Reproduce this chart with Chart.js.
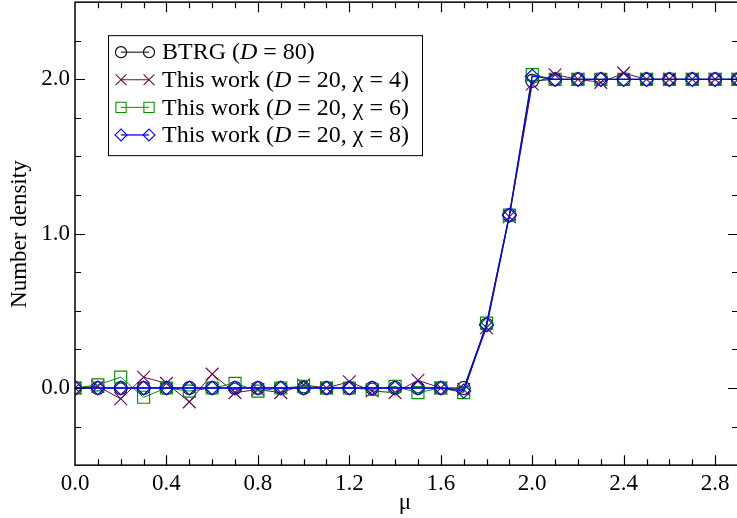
<!DOCTYPE html>
<html><head><meta charset="utf-8">
<script src="https://cdn.jsdelivr.net/npm/chart.js@4.4.0/dist/chart.umd.min.js"></script>
<style>
html,body{margin:0;padding:0;background:#fff;overflow:hidden;}
#wrap{position:relative;width:760px;height:518px;overflow:hidden;}
#c{display:block;}
</style></head><body>
<div id="wrap"><canvas id="c" width="760" height="530"></canvas></div>
<script>
// ---------- data ----------
const mu = [0.0,0.1,0.2,0.3,0.4,0.5,0.6,0.7,0.8,0.9,1.0,1.1,1.2,1.3,1.4,1.5,1.6,1.7,1.8,1.9,2.0,2.1,2.2,2.3,2.4,2.5,2.6,2.7,2.8,2.9,3.0];
const btrgD80 = [0,0,0,0,0,0,0,0,0,0,0,0,0,0,0,0,0,0,0.41,1.12,1.99,2.0,2.0,2.0,2.0,2.0,2.0,2.0,2.0,2.0,2.0];
const workChi4 = [0.0,0.01,-0.07,0.07,0.03,-0.09,0.09,-0.03,-0.01,-0.03,0.02,0.0,0.04,-0.02,-0.03,0.05,0.0,-0.01,0.39,1.11,1.97,2.03,2.0,1.98,2.04,2.0,2.0,2.0,2.0,2.0,2.0];
const workChi6 = [0.0,0.02,0.07,-0.06,0.0,-0.02,0.0,0.03,-0.02,0.0,0.01,0.0,0.0,-0.01,0.01,-0.03,0.0,-0.03,0.42,1.12,2.03,2.0,2.0,2.0,2.0,2.0,2.0,2.0,2.0,2.0,2.0];
const workChi8 = [0,0,0,0,0,0,0,0,0,0,0,0,0,0,0,0,0,-0.02,0.41,1.12,2.02,2.0,2.0,2.0,2.0,2.0,2.0,2.0,2.0,2.0,2.0];
const seriesLabels = ['BTRG (D = 80)','This work (D = 20, \u03c7 = 4)','This work (D = 20, \u03c7 = 6)','This work (D = 20, \u03c7 = 8)'];
const xTickValues = [0.0,0.4,0.8,1.2,1.6,2.0,2.4,2.8];
const xTickLabels = ['0.0','0.4','0.8','1.2','1.6','2.0','2.4','2.8'];
const yTickValues = [0,1,2];
const yTickLabels = ['0.0','1.0','2.0'];
const xTitle = '\u03bc';
const yTitle = 'Number density';

// ---------- styles / layout ----------
const FONT = '"Liberation Serif", "DejaVu Serif", serif';
const AREA = {left: 75, top: 2, right: 738, bottom: 465};
const CANVAS_H = 530;
let xAxisHeight = CANVAS_H - AREA.bottom;
let shiftY = 0;

const styles = [
  {color:'#000000', point:'circle', r:6.5, lw:1},
  {color:'#6a0a4c', point:'crossRot', r:9, lw:1},
  {color:'#009000', point:'rect', r:8.5, lw:1},
  {color:'#0000ff', point:'rectRot', r:7, lw:1.3}
];
const seriesData = [btrgD80, workChi4, workChi6, workChi8];

const datasets = seriesData.map((arr, i) => ({
  label: seriesLabels[i],
  data: mu.map((x, j) => ({x: x, y: arr[j]})),
  borderColor: styles[i].color,
  borderWidth: styles[i].lw,
  pointStyle: styles[i].point,
  pointRadius: styles[i].r,
  pointBorderColor: styles[i].color,
  pointBackgroundColor: 'rgba(0,0,0,0)',
  pointBorderWidth: 1.15,
  tension: 0,
  fill: false,
  order: 3 - i
}));

function drawMarker(ctx, style, x, y, r, color) {
  ctx.save();
  ctx.strokeStyle = color; ctx.lineWidth = 1.1;
  ctx.beginPath();
  if (style === 'circle') {
    ctx.arc(x, y, r, 0, Math.PI * 2);
  } else if (style === 'rect') {
    const s = r * Math.SQRT1_2;
    ctx.rect(x - s, y - s, 2 * s, 2 * s);
  } else if (style === 'rectRot') {
    ctx.moveTo(x - r, y); ctx.lineTo(x, y - r); ctx.lineTo(x + r, y); ctx.lineTo(x, y + r); ctx.closePath();
  } else if (style === 'crossRot') {
    const s = r * Math.SQRT1_2;
    ctx.moveTo(x - s, y - s); ctx.lineTo(x + s, y + s);
    ctx.moveTo(x - s, y + s); ctx.lineTo(x + s, y - s);
  }
  ctx.stroke();
  ctx.restore();
}

function drawRich(ctx, text, x, y, size) {
  const parts = text.split(/(D)/);
  for (const p of parts) {
    if (!p) continue;
    ctx.font = (p === 'D' ? 'italic ' : '') + size + 'px ' + FONT;
    ctx.fillText(p, x, y);
    x += ctx.measureText(p).width;
  }
}

const decor = {
  id: 'decor',
  afterDraw(chart) {
    const ctx = chart.ctx;
    const a = chart.chartArea;
    const xs = chart.scales.x, ys = chart.scales.y;
    const oy = a.top - AREA.top;
    ctx.save();
    ctx.strokeStyle = '#000'; ctx.lineWidth = 1.5;
    ctx.strokeRect(a.left, a.top, a.right - a.left, a.bottom - a.top);
    ctx.lineWidth = 1.2;
    ctx.beginPath();
    for (let k = 0; k <= 29; k++) {
      const v = k / 10;
      const len = (k % 4 === 0) ? 10 : 6;
      const px = Math.round(xs.getPixelForValue(v)) + 0.5;
      if (px < a.left + 1 || px > a.right - 1) continue;
      ctx.moveTo(px, a.bottom); ctx.lineTo(px, a.bottom - len);
      ctx.moveTo(px, a.top); ctx.lineTo(px, a.top + len);
    }
    for (let k = -2; k <= 10; k++) {
      const v = k / 4;
      const len = (k % 4 === 0) ? 10 : 6;
      const py = Math.round(ys.getPixelForValue(v)) + 0.5;
      if (py < a.top + 1 || py > a.bottom - 1) continue;
      ctx.moveTo(a.left, py); ctx.lineTo(a.left + len, py);
      ctx.moveTo(a.right, py); ctx.lineTo(a.right - len, py);
    }
    ctx.stroke();
    ctx.fillStyle = '#000';
    ctx.textAlign = 'center'; ctx.textBaseline = 'middle';
    ctx.font = '23px ' + FONT;
    ctx.fillText(xTitle, 405, 503 + oy);
    ctx.save();
    ctx.translate(20, 234 + oy);
    ctx.rotate(-Math.PI / 2);
    ctx.fillText(yTitle, 0, 0);
    ctx.restore();
    // legend
    const bx = 108.5, by = 35.5 + oy, bw = 314, bh = 120;
    ctx.fillStyle = '#fff';
    ctx.fillRect(bx, by, bw, bh);
    ctx.strokeStyle = '#000'; ctx.lineWidth = 1;
    ctx.strokeRect(bx, by, bw, bh);
    ctx.textAlign = 'left'; ctx.textBaseline = 'middle';
    chart.data.datasets.forEach((ds, i) => {
      const cy = 52 + oy + i * 27.6;
      const st = styles[i];
      ctx.strokeStyle = st.color; ctx.lineWidth = st.lw;
      ctx.beginPath(); ctx.moveTo(121, cy); ctx.lineTo(149, cy); ctx.stroke();
      drawMarker(ctx, st.point, 121, cy, st.r * 0.85, st.color);
      drawMarker(ctx, st.point, 149, cy, st.r * 0.85, st.color);
      ctx.fillStyle = '#000';
      drawRich(ctx, ds.label, 162, cy + 1, 24);
    });
    ctx.restore();
  }
};

const canvas = document.getElementById('c');
const chart = new Chart(canvas, {
  type: 'line',
  data: { datasets: datasets },
  options: {
    responsive: false,
    devicePixelRatio: 1,
    animation: false,
    layout: { padding: { left: 0, top: AREA.top, right: 760 - AREA.right, bottom: 0 } },
    plugins: { legend: { display: false }, tooltip: { enabled: false } },
    scales: {
      x: {
        type: 'linear', min: 0, max: 2.9,
        grid: { display: false, drawTicks: false },
        border: { display: false },
        afterBuildTicks: (s) => { s.ticks = xTickValues.map(v => ({ value: v })); },
        afterFit: (s) => { s.height = xAxisHeight; s.paddingLeft = 0; s.paddingRight = 0; },
        ticks: {
          autoSkip: false, maxRotation: 0, padding: 5, color: '#000',
          font: { family: FONT, size: 23 },
          callback: (v) => { const i = xTickValues.indexOf(v); return i >= 0 ? xTickLabels[i] : ''; }
        }
      },
      y: {
        type: 'linear', min: -0.5, max: 2.5,
        grid: { display: false, drawTicks: false },
        border: { display: false },
        afterBuildTicks: (s) => { s.ticks = yTickValues.map(v => ({ value: v })); },
        afterFit: (s) => { s.width = AREA.left; s.paddingTop = 0; s.paddingBottom = 0; },
        ticks: {
          padding: 5, color: '#000',
          font: { family: FONT, size: 23 },
          callback: (v) => { const i = yTickValues.indexOf(v); return i >= 0 ? yTickLabels[i] : ''; }
        }
      }
    }
  },
  plugins: [decor]
});

// align the plot area with the page: shift the canvas if the layout added top space
shiftY = chart.chartArea.top - AREA.top;
if (shiftY !== 0) {
  canvas.style.marginTop = (-shiftY) + 'px';
  xAxisHeight = CANVAS_H - AREA.bottom - shiftY;
  chart.update();
}
</script>
</body></html>
